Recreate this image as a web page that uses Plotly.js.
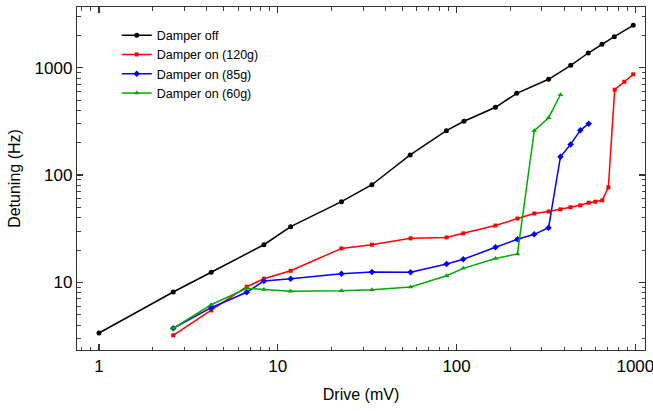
<!DOCTYPE html>
<html>
<head>
<meta charset="utf-8">
<script src="https://cdn.plot.ly/plotly-3.0.1.min.js"></script>
<style>html,body{margin:0;padding:0;background:#fff;}#chart{width:653px;height:411px;}</style>
</head>
<body>
<div id="chart"></div>
<script>
// Drive (mV) and detuning (Hz) values
var driveOff = [1.0, 2.60, 4.24, 8.36, 11.8, 22.7, 33.6, 55.0, 87.7, 110, 165, 217, 327, 435, 545, 650, 762, 973];
var detuneOff = [3.37, 8.12, 12.4, 22.4, 33.0, 56.4, 81.2, 154, 259, 317, 428, 577, 780, 1052, 1371, 1652, 1945, 2484];

var drive120 = [2.60, 4.24, 6.70, 8.36, 11.8, 22.7, 33.6, 55.3, 87.9, 109, 165, 219, 272, 327, 381, 434, 492, 548, 597, 653, 706, 766, 867, 973];
var detune120 = [3.21, 5.48, 9.10, 10.8, 12.8, 20.7, 22.4, 25.7, 26.2, 28.6, 33.8, 39.3, 43.8, 45.7, 47.9, 50.1, 52.2, 55.2, 56.4, 58.1, 76.8, 624, 740, 868];

var drive85 = [2.60, 4.24, 6.70, 8.36, 11.8, 22.7, 33.6, 55.3, 87.9, 109, 165, 219, 272, 327, 381, 434, 492, 548];
var detune85 = [3.73, 5.80, 8.07, 10.3, 10.8, 12.0, 12.5, 12.4, 14.8, 16.4, 21.2, 25.2, 28.0, 32.3, 148, 193, 261, 301];

var drive60 = [2.60, 4.24, 6.70, 8.36, 11.8, 22.7, 33.6, 55.3, 87.9, 109, 165, 219, 272, 327, 381];
var detune60 = [3.73, 6.18, 8.79, 8.57, 8.26, 8.33, 8.53, 9.04, 11.5, 13.5, 16.7, 18.4, 259, 342, 560];

var names = ["Damper off", "Damper on (120g)", "Damper on (85g)", "Damper on (60g)"];

var FONT = "Liberation Sans, Arial, sans-serif";

var traces = [
  {x: driveOff, y: detuneOff, name: names[0], mode: "lines+markers",
   line: {color: "#000000", width: 1.5}, marker: {symbol: "circle", size: 5, color: "#000000"}},
  {x: drive120, y: detune120, name: names[1], mode: "lines+markers",
   line: {color: "#ff0000", width: 1.5}, marker: {symbol: "square", size: 4, color: "#ff0000"}},
  {x: drive85, y: detune85, name: names[2], mode: "lines+markers",
   line: {color: "#0000ff", width: 1.5}, marker: {symbol: "diamond", size: 5, color: "#0000ff"}},
  {x: drive60, y: detune60, name: names[3], mode: "lines+markers",
   line: {color: "#00aa00", width: 1.5}, marker: {symbol: "triangle-up", size: 5, color: "#00aa00"}}
];

var axisCommon = {
  type: "log",
  showgrid: false,
  zeroline: false,
  showline: true,
  linecolor: "#333333",
  linewidth: 1.2,
  mirror: "ticks",
  ticks: "inside",
  ticklen: 6,
  tickwidth: 1.2,
  tickcolor: "#333333",
  tickmode: "linear",
  tick0: 0,
  dtick: 1,
  ticklabeloverflow: "allow",
  tickfont: {family: FONT, size: 17, color: "#000"},
  minor: {ticks: "inside", ticklen: 3.5, tickwidth: 1, tickcolor: "#444444", showgrid: false}
};

var layout = {
  width: 653, height: 411,
  margin: {l: 77, r: 8, t: 7, b: 61},
  paper_bgcolor: "#ffffff",
  plot_bgcolor: "#ffffff",
  font: {family: FONT, color: "#000"},
  showlegend: true,
  legend: {x: 0.07, y: 0.96, xanchor: "left", yanchor: "top",
           bgcolor: "rgba(0,0,0,0)", font: {family: FONT, size: 12.5, color: "#000"},
           tracegroupgap: 0},
  xaxis: Object.assign({}, axisCommon, {
    range: [Math.log10(0.753), Math.log10(1132)],
    title: {text: "Drive (mV)", font: {family: FONT, size: 16, color: "#000"}, standoff: 14}
  }),
  yaxis: Object.assign({}, axisCommon, {
    range: [Math.log10(2.34), Math.log10(3680)],
    title: {text: "Detuning (Hz)", font: {family: FONT, size: 16, color: "#000"}, standoff: 10}
  })
};

Plotly.newPlot("chart", traces, layout, {displayModeBar: false, staticPlot: true});
</script>
</body>
</html>
